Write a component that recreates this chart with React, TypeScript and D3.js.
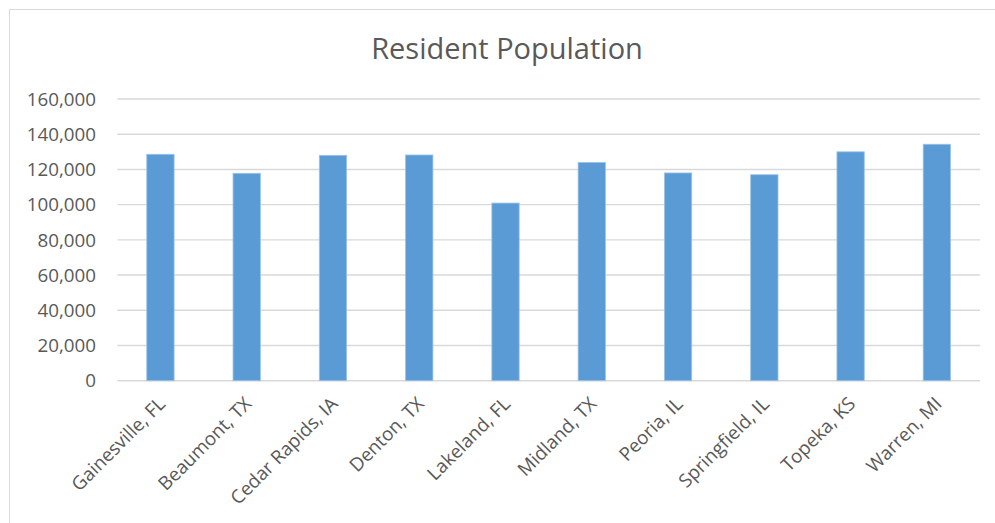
import React from "react";
import * as d3 from "d3";

const categories = [
  "Gainesville, FL",
  "Beaumont, TX",
  "Cedar Rapids, IA",
  "Denton, TX",
  "Lakeland, FL",
  "Midland, TX",
  "Peoria, IL",
  "Springfield, IL",
  "Topeka, KS",
  "Warren, MI",
];
const population = [128600, 117800, 128000, 128200, 100900, 124000, 118000, 117000, 130000, 134300];
const yTicks = [0, 20000, 40000, 60000, 80000, 100000, 120000, 140000, 160000];
const title = "Resident Population";

export default function App() {
  const W = 995;
  const H = 523;
  const left = 117.3;
  const right = 980;
  const top = 99;
  const bottom = 380.7;
  const x = d3.scaleBand<string>().domain(categories).range([left, right]).paddingInner(0.683).paddingOuter(0.3415);
  const y = d3.scaleLinear().domain([0, 160000]).range([bottom, top]);
  const fmt = d3.format(",");
  const font = "'Open Sans', 'Noto Sans', sans-serif";
  const textColor = "#595959";
  return (
    <svg width={W} height={H} style={{ position: "absolute", left: 0, top: 0, background: "#fff" }}>
      <rect x={9.5} y={9.5} width={1000} height={530} fill="#fff" stroke="#D9D9D9" strokeWidth={1} />
      <text x={507} y={59} textAnchor="middle" fontFamily={font} fontSize={29} fill={textColor}>
        {title}
      </text>
      {yTicks.map((t) => (
        <g key={t}>
          <line x1={left} x2={right} y1={y(t)} y2={y(t)} stroke="#D9D9D9" strokeWidth={1.4} />
          <text x={96} y={y(t)} dy="0.36em" textAnchor="end" fontFamily={font} fontSize={18.8} fill={textColor}>
            {fmt(t)}
          </text>
        </g>
      ))}
      {categories.map((c, i) => (
        <rect
          key={c}
          x={x(c)}
          y={y(population[i])}
          width={x.bandwidth()}
          height={bottom - y(population[i])}
          fill="#5B9BD5"
          stroke="#9DC3E6"
          strokeWidth={0.8}
        />
      ))}
      {categories.map((c) => {
        const cx = (x(c) as number) + x.bandwidth() / 2;
        return (
          <text
            key={c + "-l"}
            transform={`translate(${cx + 6},${405}) rotate(-45)`}
            textAnchor="end"
            fontFamily={font}
            fontSize={18.8}
            fill={textColor}
          >
            {c}
          </text>
        );
      })}
    </svg>
  );
}
